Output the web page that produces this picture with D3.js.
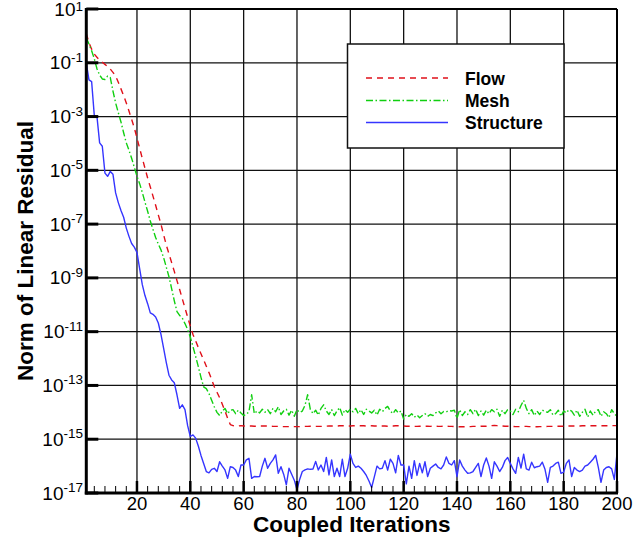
<!DOCTYPE html>
<html>
<head>
<meta charset="utf-8">
<script src="https://cdn.jsdelivr.net/npm/d3@7/dist/d3.min.js"></script>
<style>
  html, body { margin: 0; padding: 0; background: #fff; }
  svg { display: block; }
  text { font-family: Arial, "Liberation Sans", Helvetica, sans-serif; }
</style>
</head>
<body>
<svg id="chart" width="633" height="546"></svg>
<script>
// Residual histories per coupled iteration (iterations 1..200)
const flow = [
  1.2, 5.6e-1, 3.2e-1, 2.1e-1, 1.6e-1, 1.26e-1, 1.05e-1, 8.7e-2, 7.2e-2, 5.8e-2,
  4.4e-2, 3.2e-2, 1.9e-2, 1.07e-2, 6.0e-3, 3.2e-3, 1.6e-3, 7.9e-4, 3.8e-4, 1.6e-4,
  6.6e-5, 2.8e-5, 1.2e-5, 5.2e-6, 2.4e-6, 1.1e-6, 5.0e-7, 2.2e-7, 1.0e-7, 4.0e-8,
  1.66e-8, 7.9e-9, 3.7e-9, 1.74e-9, 7.9e-10, 3.7e-10, 1.66e-10, 7.6e-11, 3.5e-11, 1.6e-11,
  7.9e-12, 4.5e-12, 2.6e-12, 1.5e-12, 8.9e-13, 5.2e-13, 3.0e-13, 1.66e-13, 8.9e-14, 5.6e-14,
  3.5e-14, 2.0e-14, 1.12e-14, 6.0e-15, 3.5e-15, 3.2e-15, 3.1e-15, 3.1e-15, 3.2e-15, 3.1e-15,
  3.1e-15, 3.1e-15, 3.1e-15, 3.05e-15, 3.05e-15, 3.1e-15, 3.1e-15, 3.1e-15, 3.1e-15, 3.05e-15,
  3.0e-15, 3.0e-15, 3.0e-15, 2.95e-15, 2.95e-15, 2.95e-15, 2.95e-15, 3.0e-15, 2.95e-15, 2.95e-15,
  2.95e-15, 3.0e-15, 3.0e-15, 3.0e-15, 3.05e-15, 3.05e-15, 3.0e-15, 3.0e-15, 3.0e-15, 3.05e-15,
  3.05e-15, 3.1e-15, 3.1e-15, 3.1e-15, 3.1e-15, 3.15e-15, 3.15e-15, 3.15e-15, 3.1e-15, 3.1e-15,
  3.15e-15, 3.2e-15, 3.2e-15, 3.15e-15, 3.15e-15, 3.1e-15, 3.1e-15, 3.15e-15, 3.1e-15, 3.1e-15,
  3.1e-15, 3.1e-15, 3.1e-15, 3.05e-15, 3.1e-15, 3.1e-15, 3.15e-15, 3.15e-15, 3.1e-15, 3.1e-15,
  3.05e-15, 3.05e-15, 3.05e-15, 3.0e-15, 3.0e-15, 3.05e-15, 3.05e-15, 3.05e-15, 3.05e-15, 3.0e-15,
  3.05e-15, 3.05e-15, 3.0e-15, 3.0e-15, 3.05e-15, 3.05e-15, 3.0e-15, 3.0e-15, 2.95e-15, 2.95e-15,
  2.9e-15, 2.9e-15, 2.9e-15, 2.95e-15, 2.95e-15, 3.0e-15, 3.0e-15, 3.0e-15, 3.05e-15, 3.05e-15,
  3.05e-15, 3.1e-15, 3.2e-15, 3.25e-15, 3.2e-15, 3.1e-15, 3.1e-15, 3.05e-15, 3.05e-15, 3.0e-15,
  3.0e-15, 2.95e-15, 2.95e-15, 2.95e-15, 3.0e-15, 3.0e-15, 2.95e-15, 2.95e-15, 2.9e-15, 2.9e-15,
  2.95e-15, 2.95e-15, 2.95e-15, 3.0e-15, 3.0e-15, 3.0e-15, 3.05e-15, 3.05e-15, 3.05e-15, 3.05e-15,
  3.1e-15, 3.1e-15, 3.1e-15, 3.1e-15, 3.1e-15, 3.1e-15, 3.15e-15, 3.15e-15, 3.15e-15, 3.15e-15,
  3.15e-15, 3.15e-15, 3.15e-15, 3.15e-15, 3.15e-15, 3.15e-15, 3.15e-15, 3.2e-15, 3.2e-15, 3.2e-15
];

const mesh = [
  8.5e-1, 5.0e-1, 2.8e-1, 1.4e-1, 6.0e-2, 3.5e-2, 2.5e-2, 2.4e-2, 3.2e-2, 2.8e-2,
  8.9e-3, 3.2e-3, 1.4e-3, 6.3e-4, 2.5e-4, 1.05e-4, 5.6e-5, 2.8e-5, 1.3e-5, 6.0e-6,
  3.2e-6, 1.5e-6, 6.6e-7, 3.0e-7, 1.3e-7, 6.3e-8, 3.2e-8, 1.8e-8, 1.1e-8, 5.6e-9,
  2.5e-9, 1.1e-9, 4.0e-10, 1.4e-10, 5.6e-11, 4.0e-11, 3.2e-11, 2.0e-11, 1.2e-11, 6.3e-12,
  2.8e-12, 1.2e-12, 5.0e-13, 2.0e-13, 8.9e-14, 7.6e-14, 5.0e-14, 2.8e-14, 1.6e-14, 1.0e-14,
  7.6e-15, 1.12e-14, 1.4e-14, 8.9e-15, 1.2e-14, 1.26e-14, 8.9e-15, 1.2e-14, 9.5e-15, 7.6e-15,
  8.3e-15, 1.07e-14, 4.5e-14, 8.9e-15, 1.12e-14, 9.5e-15, 1.3e-14, 1.0e-14, 1.26e-14, 8.9e-15,
  1.4e-14, 1.05e-14, 1.6e-14, 8.3e-15, 1.12e-14, 1.3e-14, 7.9e-15, 1.2e-14, 7.1e-15, 1.26e-14,
  1.0e-14, 1.12e-14, 1.8e-14, 4.5e-14, 1.3e-14, 8.9e-15, 1.2e-14, 7.9e-15, 1.4e-14, 1.9e-14,
  1.12e-14, 8.3e-15, 1.26e-14, 7.6e-15, 1.12e-14, 1.5e-14, 7.9e-15, 1.26e-14, 1.0e-14, 1.3e-14,
  1.05e-14, 1.4e-14, 8.9e-15, 1.26e-14, 8.3e-15, 1.3e-14, 1.12e-14, 9.5e-15, 1.2e-14, 7.9e-15,
  1.3e-14, 1.05e-14, 1.4e-14, 1.66e-14, 1.12e-14, 8.9e-15, 1.26e-14, 9.5e-15, 1.12e-14, 5.6e-15,
  8.3e-15, 7.1e-15, 8.9e-15, 6.6e-15, 7.9e-15, 6.3e-15, 7.6e-15, 8.9e-15, 7.1e-15, 8.3e-15,
  7.6e-15, 9.5e-15, 1.12e-14, 8.9e-15, 1.07e-14, 1.05e-14, 1.17e-14, 1.12e-14, 1.2e-14, 6.0e-15,
  1.26e-14, 7.6e-15, 1.05e-14, 8.3e-15, 1.26e-14, 8.9e-15, 1.3e-14, 7.6e-15, 1.12e-14, 7.9e-15,
  1.2e-14, 8.9e-15, 1.26e-14, 1.05e-14, 1.3e-14, 7.1e-15, 1.2e-14, 8.9e-15, 1.26e-14, 1.12e-14,
  8.3e-15, 1.3e-14, 1.05e-14, 1.8e-14, 2.8e-14, 1.4e-14, 8.9e-15, 1.26e-14, 7.6e-15, 1.12e-14,
  8.3e-15, 1.2e-14, 1.07e-14, 1.0e-14, 1.26e-14, 7.9e-15, 8.9e-15, 1.2e-14, 7.1e-15, 1.12e-14,
  9.5e-15, 1.26e-14, 1.12e-14, 7.9e-15, 1.2e-14, 7.1e-15, 1.0e-14, 1.3e-14, 6.6e-15, 1.12e-14,
  7.9e-15, 1.12e-14, 1.26e-14, 7.1e-15, 1.05e-14, 8.9e-15, 6.3e-15, 1.26e-14, 8.9e-15, 7.1e-15
];

const structure = [
  1.0e-1, 2.3e-2, 2.0e-2, 1.1e-3, 1.0e-3, 1.05e-4, 7.9e-5, 7.9e-6, 6.0e-6, 9.1e-6,
  7.1e-6, 1.45e-6, 6.3e-7, 3.2e-7, 1.8e-7, 7.1e-8, 3.5e-8, 1.9e-8, 1.4e-8, 8.9e-9,
  2.2e-9, 5.6e-10, 2.2e-10, 1.1e-10, 5.0e-11, 4.4e-11, 3.5e-11, 2.1e-11, 7.9e-12, 2.4e-12,
  7.1e-13, 2.4e-13, 1.6e-13, 1.26e-13, 4.5e-14, 1.4e-14, 1.9e-14, 1.26e-14, 3.2e-15, 1.26e-15,
  1.45e-15, 1.1e-15, 5.6e-16, 2.5e-16, 1.26e-16, 6.3e-17, 5.6e-17, 7.6e-17, 8.3e-17, 6.3e-17,
  1.45e-16, 1.0e-16, 7.2e-17, 3.5e-17, 9.5e-17, 8.9e-17, 7.1e-17, 4.1e-17, 1.1e-16, 1.1e-16,
  1.7e-16, 1.95e-16, 3.5e-17, 4.1e-17, 4.0e-17, 4.1e-17, 1.0e-16, 1.95e-16, 8.3e-17, 1.26e-16,
  1.7e-16, 2.6e-16, 5.4e-17, 9.5e-17, 5.0e-17, 2.0e-17, 8.3e-17, 5.0e-17, 3.0e-17, 1.3e-17,
  3.2e-17, 6.3e-17, 7.2e-17, 7.9e-17, 7.6e-17, 7.8e-17, 1.5e-16, 7.2e-17, 1.1e-16, 6.3e-17,
  2.1e-16, 4.7e-17, 1.7e-16, 4.1e-17, 8.3e-17, 4.1e-17, 1.8e-16, 4.1e-17, 8.3e-17, 2.8e-16,
  1.26e-16, 8.9e-17, 1.0e-16, 8.3e-17, 6.3e-17, 4.5e-17, 2.8e-17, 1.6e-17, 4.0e-17, 1.0e-16,
  7.9e-17, 8.3e-17, 1.6e-16, 7.1e-17, 1.8e-16, 1.26e-16, 5.6e-17, 2.5e-16, 1.1e-16, 1.1e-16,
  2.2e-17, 1.0e-16, 3.5e-17, 1.6e-16, 4.5e-17, 1.26e-16, 5.6e-17, 1.45e-16, 4.1e-17, 8.3e-17,
  1.0e-16, 1.2e-16, 8.9e-17, 7.9e-17, 1.1e-16, 2.2e-16, 1.26e-16, 1.1e-16, 1.6e-16, 4.1e-17,
  1.7e-16, 1.0e-16, 7.1e-17, 5.4e-17, 5.6e-17, 6.3e-17, 8.9e-17, 1.26e-16, 4.1e-17, 1.1e-16,
  2.0e-16, 1.0e-16, 3.5e-17, 1.45e-16, 1.0e-16, 6.3e-17, 8.9e-17, 1.6e-16, 2.1e-16, 1.26e-16,
  7.9e-17, 5.4e-17, 2.1e-16, 8.5e-17, 2.8e-16, 7.9e-17, 7.1e-17, 1.4e-16, 8.7e-17, 9.5e-17,
  1.0e-16, 1.4e-16, 7.6e-17, 2.5e-17, 8.9e-17, 1.0e-16, 1.26e-16, 1.4e-16, 5.4e-17, 6.0e-17,
  1.26e-16, 1.7e-16, 4.1e-17, 8.9e-17, 7.1e-17, 6.3e-17, 7.1e-17, 1.0e-16, 1.1e-16, 1.4e-16,
  1.8e-16, 2.5e-16, 8.9e-17, 2.5e-17, 7.1e-17, 8.9e-17, 9.5e-17, 7.9e-17, 3.2e-17, 3.0e-16
];

const iterations = d3.range(1, flow.length + 1);

// Axis ticks and labels
const xMajorTicks = [20, 40, 60, 80, 100, 120, 140, 160, 180, 200];
const xMinorTicks = d3.range(4, 200, 4).filter(v => v % 20 !== 0);
const yTickExponents = [1, -1, -3, -5, -7, -9, -11, -13, -15, -17];

const seriesNames = ["Flow", "Mesh", "Structure"];
const seriesColors = ["#e0101a", "#10cf10", "#3535ff"];
const seriesDash = ["6,5", "7,2.5,1.5,2.5", null];

const svg = d3.select("#chart");
const L = 86.3, R = 617, T = 9, B = 493;

const x = d3.scaleLinear().domain([1, 200]).range([L, R]);
const y = d3.scaleLog().domain([1e-17, 10]).range([B, T]);

// grid
const grid = svg.append("g").attr("stroke", "#111").attr("stroke-width", 1.3);
grid.selectAll("line.v").data(xMajorTicks.filter(v => v < 200)).join("line")
  .attr("x1", d => x(d)).attr("x2", d => x(d)).attr("y1", T).attr("y2", B);
grid.selectAll("line.h").data(yTickExponents.filter(e => e > -17 && e < 1)).join("line")
  .attr("y1", e => y(Math.pow(10, e))).attr("y2", e => y(Math.pow(10, e)))
  .attr("x1", L).attr("x2", R);

// series lines
svg.append("clipPath").attr("id", "plotClip").append("rect")
  .attr("x", L).attr("y", T).attr("width", R - L).attr("height", B - T);

const allSeries = [flow, mesh, structure];
const lineGen = d3.line().x((d, i) => x(iterations[i])).y(d => y(d));
const lines = svg.append("g").attr("clip-path", "url(#plotClip)");
allSeries.forEach((vals, k) => {
  lines.append("path")
    .datum(vals)
    .attr("d", lineGen)
    .attr("fill", "none")
    .attr("stroke", seriesColors[k])
    .attr("stroke-width", 1.4)
    .attr("stroke-dasharray", seriesDash[k])
    .attr("stroke-linejoin", "round");
});

// frame
const frame = svg.append("g").attr("stroke", "#000").attr("fill", "none");
frame.append("line").attr("x1", L).attr("x2", R).attr("y1", T).attr("y2", T).attr("stroke-width", 2);
frame.append("line").attr("x1", R).attr("x2", R).attr("y1", T).attr("y2", B).attr("stroke-width", 2);
frame.append("line").attr("x1", L).attr("x2", L).attr("y1", T - 1).attr("y2", B + 1.5).attr("stroke-width", 3);
frame.append("line").attr("x1", L - 1.5).attr("x2", R + 1).attr("y1", B).attr("y2", B).attr("stroke-width", 3);

// x ticks
const ticks = svg.append("g").attr("stroke", "#000");
ticks.selectAll("line.xmaj").data(xMajorTicks).join("line")
  .attr("x1", d => x(d)).attr("x2", d => x(d)).attr("y1", B).attr("y2", B - 12)
  .attr("stroke-width", 2.5);
ticks.selectAll("line.xmin").data(xMinorTicks).join("line")
  .attr("x1", d => x(d)).attr("x2", d => x(d)).attr("y1", B).attr("y2", B - 7)
  .attr("stroke-width", 1);
// y ticks
ticks.selectAll("line.ymaj").data(yTickExponents).join("line")
  .attr("y1", e => y(Math.pow(10, e))).attr("y2", e => y(Math.pow(10, e)))
  .attr("x1", L).attr("x2", L + 12).attr("stroke-width", 3);

// x tick labels
svg.append("g").selectAll("text").data(xMajorTicks).join("text")
  .attr("x", d => x(d)).attr("y", 509.5)
  .attr("text-anchor", "middle")
  .attr("font-size", 18.5)
  .attr("fill", "#000")
  .text(d => d);

// y tick labels: 10^n (the topmost one sits against the page edge, so its
// superscript is raised a little less to stay inside the page)
const yl = svg.append("g").selectAll("text").data(yTickExponents).join("text")
  .attr("x", 83).attr("y", e => y(Math.pow(10, e)) + 6.5)
  .attr("text-anchor", "end")
  .attr("fill", "#000");
yl.append("tspan").attr("font-size", 19).text("10");
yl.append("tspan").attr("font-size", 13.5)
  .attr("dy", (e, i) => i === 0 ? -5 : -7.5)
  .text(e => e);

// axis titles
svg.append("text")
  .attr("x", (L + R) / 2).attr("y", 532)
  .attr("text-anchor", "middle")
  .attr("font-size", 22.5).attr("font-weight", "bold")
  .text("Coupled Iterations");
svg.append("text")
  .attr("transform", `translate(33,${(T + B) / 2}) rotate(-90)`)
  .attr("text-anchor", "middle")
  .attr("font-size", 22.5).attr("font-weight", "bold")
  .text("Norm of Linear Residual");

// legend
const lg = svg.append("g");
lg.append("rect").attr("x", 347.5).attr("y", 44).attr("width", 216.5).attr("height", 104)
  .attr("fill", "#fff").attr("stroke", "#111").attr("stroke-width", 1.5);
const legendRowY = [78, 100.5, 122.5];
seriesNames.forEach((name, k) => {
  lg.append("line")
    .attr("x1", 366).attr("x2", 448)
    .attr("y1", legendRowY[k]).attr("y2", legendRowY[k])
    .attr("stroke", seriesColors[k]).attr("stroke-width", 1.3)
    .attr("stroke-dasharray", seriesDash[k]);
  lg.append("text")
    .attr("x", 465).attr("y", legendRowY[k] + 6.5)
    .attr("font-size", 17.5).attr("font-weight", "bold")
    .text(name);
});
</script>
</body>
</html>
